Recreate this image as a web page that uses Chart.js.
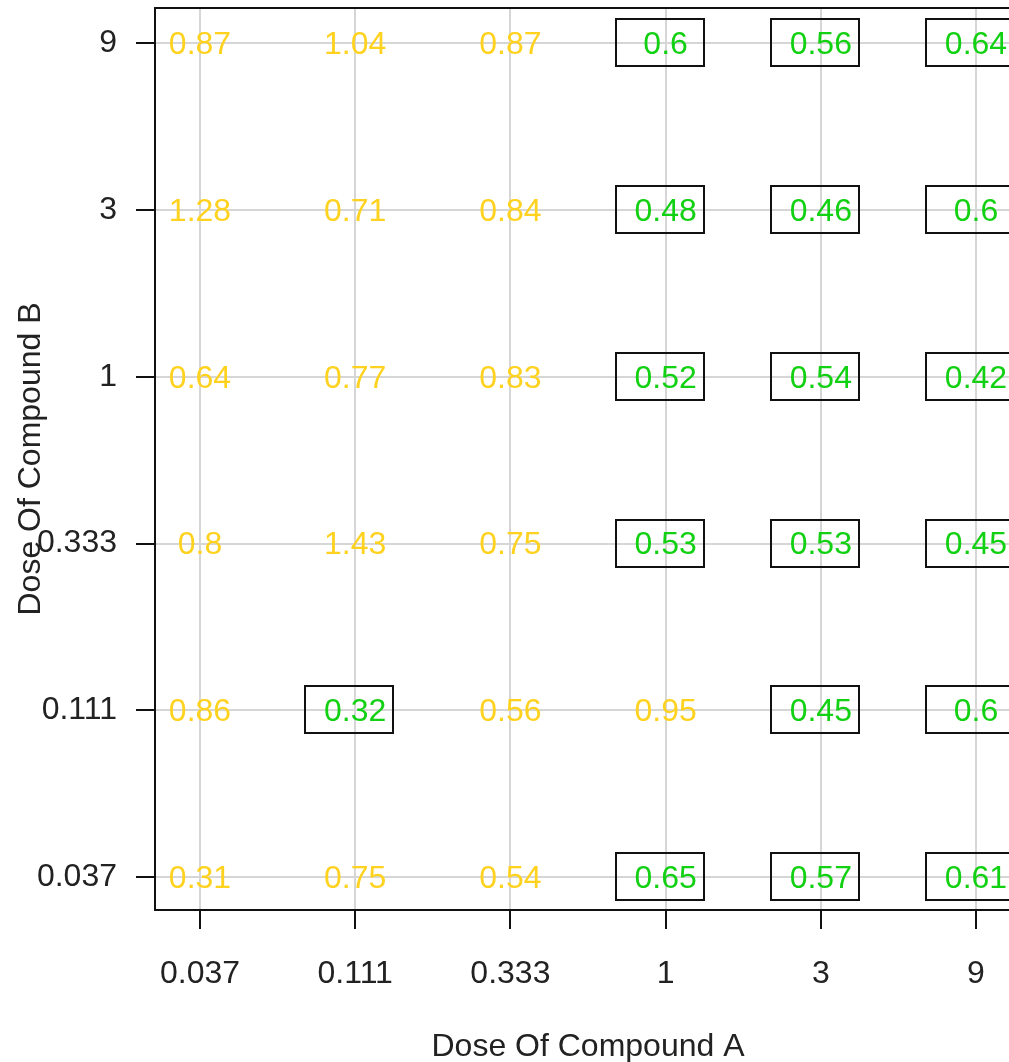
<!DOCTYPE html>
<html>
<head>
<meta charset="utf-8">
<script src="https://cdn.jsdelivr.net/npm/chart.js@4/dist/chart.umd.min.js"></script>
<style>
  html, body { margin: 0; padding: 0; background: #fff; overflow: hidden; }
  #wrap { width: 1040px; height: 1062px; }
</style>
</head>
<body>
<div id="wrap"><canvas id="c" width="1040" height="1062"></canvas></div>
<script>
// Dose levels (tick labels) for both compounds
const doseA = ['0.037', '0.111', '0.333', '1', '3', '9'];
const doseB = ['0.037', '0.111', '0.333', '1', '3', '9'];

// Combination index values, rows by dose of B (0.037 .. 9), columns by dose of A
const ciB0037 = [0.31, 0.75, 0.54, 0.65, 0.57, 0.61];
const ciB0111 = [0.86, 0.32, 0.56, 0.95, 0.45, 0.6];
const ciB0333 = [0.8, 1.43, 0.75, 0.53, 0.53, 0.45];
const ciB1    = [0.64, 0.77, 0.83, 0.52, 0.54, 0.42];
const ciB3    = [1.28, 0.71, 0.84, 0.48, 0.46, 0.6];
const ciB9    = [0.87, 1.04, 0.87, 0.6, 0.56, 0.64];

// Significant synergy flags (1 = boxed, green)
const sigB0037 = [0, 0, 0, 1, 1, 1];
const sigB0111 = [0, 1, 0, 0, 1, 1];
const sigB0333 = [0, 0, 0, 1, 1, 1];
const sigB1    = [0, 0, 0, 1, 1, 1];
const sigB3    = [0, 0, 0, 1, 1, 1];
const sigB9    = [0, 0, 0, 1, 1, 1];

const ciRows  = [ciB0037, ciB0111, ciB0333, ciB1, ciB3, ciB9];
const sigRows = [sigB0037, sigB0111, sigB0333, sigB1, sigB3, sigB9];

const FONT = "'Liberation Sans', Arial, sans-serif";
const GOLD = '#FFD21F';
const GREEN = '#12D012';

const points = [];
ciRows.forEach((row, yi) => row.forEach((v, xi) => {
  points.push({ x: xi, y: yi, v: v, sig: sigRows[yi][xi] === 1 });
}));

// Draws the value text (and frame for significant cells) at each point
const cellLabels = {
  id: 'cellLabels',
  afterDatasetsDraw(chart) {
    const ctx = chart.ctx;
    const meta = chart.getDatasetMeta(0);
    ctx.save();
    ctx.font = '32px ' + FONT;
    ctx.textAlign = 'center';
    ctx.textBaseline = 'middle';
    meta.data.forEach((el, i) => {
      const p = points[i];
      const { x, y } = el.getProps(['x', 'y'], true);
      if (p.sig) {
        ctx.strokeStyle = '#111';
        ctx.lineWidth = 2;
        ctx.strokeRect(Math.round(x) - 50, Math.round(y) - 24, 88, 47);
        ctx.fillStyle = GREEN;
      } else {
        ctx.fillStyle = GOLD;
      }
      ctx.fillText(String(p.v), x, y + 2);
    });
    ctx.restore();
  }
};

// Full frame around the plotting region
const frame = {
  id: 'frame',
  afterDraw(chart) {
    const a = chart.chartArea;
    const ctx = chart.ctx;
    ctx.save();
    ctx.strokeStyle = '#111';
    ctx.lineWidth = 2;
    ctx.strokeRect(a.left, a.top, a.right - a.left, a.bottom - a.top);
    ctx.restore();
  }
};

const intTicks = (scale) => { scale.ticks = [0, 1, 2, 3, 4, 5].map(v => ({ value: v })); };

new Chart(document.getElementById('c'), {
  type: 'scatter',
  data: {
    datasets: [{
      data: points,
      pointRadius: 0,
      pointHoverRadius: 0
    }]
  },
  options: {
    responsive: false,
    animation: false,
    events: [],
    layout: { padding: { top: 8, right: 19, left: 0, bottom: 0 } },
    plugins: { legend: { display: false }, tooltip: { enabled: false } },
    scales: {
      x: {
        type: 'linear',
        min: -0.29,
        max: 5.29,
        afterBuildTicks: intTicks,
        afterFit: (s) => { s.height = 152; s.paddingLeft = 0; s.paddingRight = 0; },
        grid: { color: '#D6D6D6', lineWidth: 2, tickColor: '#111', tickLength: 19, drawOnChartArea: true },
        border: { display: false },
        ticks: {
          padding: 26,
          color: '#222',
          font: { family: FONT, size: 32 },
          maxRotation: 0,
          autoSkip: false,
          callback: (v) => doseA[v]
        },
        title: {
          display: true,
          text: 'Dose Of Compound A',
          color: '#222',
          font: { family: FONT, size: 32 },
          padding: { top: 0, bottom: -4 }
        }
      },
      y: {
        type: 'linear',
        min: -0.197,
        max: 5.212,
        afterBuildTicks: intTicks,
        afterFit: (s) => { s.width = 155; s.paddingTop = 0; s.paddingBottom = 0; },
        grid: { color: '#D6D6D6', lineWidth: 2, tickColor: '#111', tickLength: 19 },
        border: { display: false },
        ticks: {
          padding: 19,
          color: '#222',
          font: { family: FONT, size: 32 },
          autoSkip: false,
          callback: (v) => doseB[v]
        },
        title: {
          display: true,
          text: 'Dose Of Compound B',
          color: '#222',
          font: { family: FONT, size: 32 },
          padding: { top: 12, bottom: 0 }
        }
      }
    }
  },
  plugins: [cellLabels, frame]
});
</script>
</body>
</html>
